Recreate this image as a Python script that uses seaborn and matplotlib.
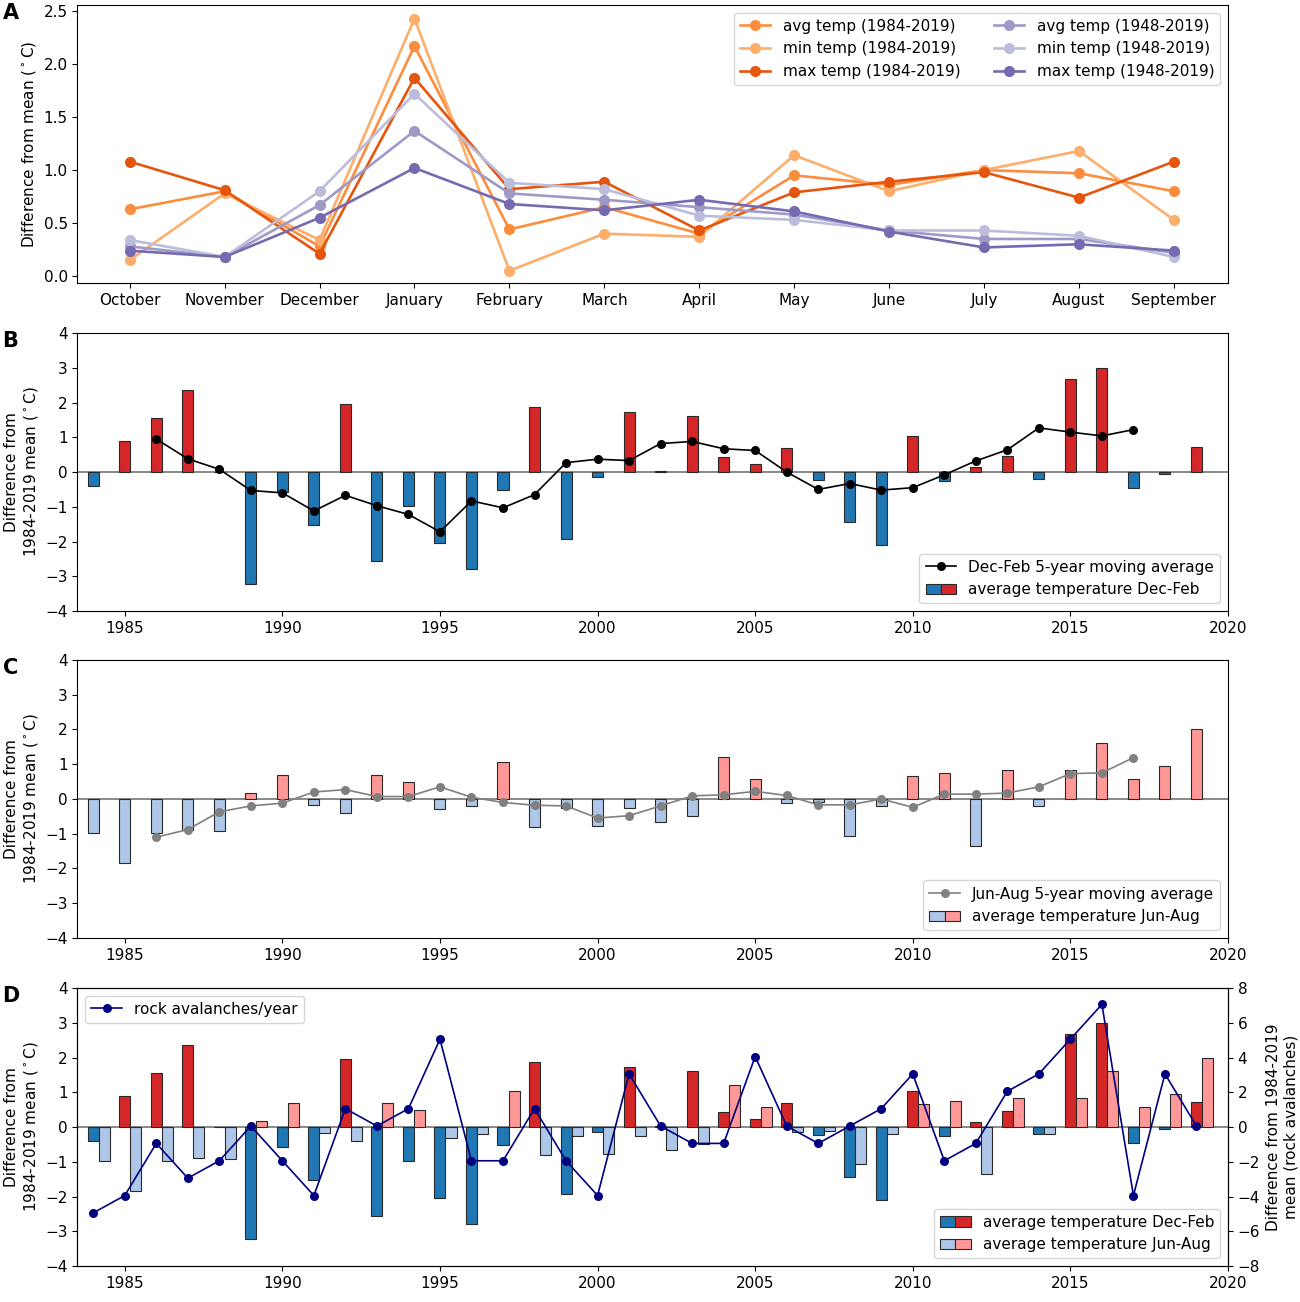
import numpy as np
import pandas as pd
import matplotlib
matplotlib.use("Agg")
import matplotlib.pyplot as plt
import seaborn as sns
from matplotlib.patches import Patch
from matplotlib.lines import Line2D
from matplotlib.legend_handler import HandlerTuple

plt.rcParams['font.family'] = ['DejaVu Sans']
plt.rcParams['font.size'] = 11

# ---- panel A: monthly differences from mean
months = ['October', 'November', 'December', 'January', 'February', 'March',
          'April', 'May', 'June', 'July', 'August', 'September']
avg_84 = [0.63, 0.80, 0.28, 2.17, 0.44, 0.65, 0.40, 0.95, 0.86, 1.00, 0.97, 0.80]
min_84 = [0.15, 0.78, 0.34, 2.43, 0.05, 0.40, 0.37, 1.14, 0.80, 1.00, 1.18, 0.53]
max_84 = [1.08, 0.81, 0.21, 1.87, 0.82, 0.89, 0.43, 0.79, 0.89, 0.98, 0.74, 1.08]
avg_48 = [0.28, 0.18, 0.67, 1.37, 0.78, 0.72, 0.65, 0.58, 0.43, 0.35, 0.35, 0.22]
min_48 = [0.34, 0.18, 0.80, 1.72, 0.88, 0.82, 0.57, 0.53, 0.43, 0.43, 0.38, 0.18]
max_48 = [0.24, 0.18, 0.55, 1.02, 0.68, 0.62, 0.72, 0.61, 0.42, 0.27, 0.30, 0.24]
series_names = ['avg temp (1984-2019)', 'min temp (1984-2019)', 'max temp (1984-2019)',
                'avg temp (1948-2019)', 'min temp (1948-2019)', 'max temp (1948-2019)']
series_colors = ['#fd8d3c', '#fdae6b', '#e6550d', '#9e9ac8', '#bcbddc', '#756bb1']

# ---- panels B-D: yearly anomalies
years = list(range(1984, 2020))
djf = [-0.40, 0.90, 1.55, 2.37, 0.00, -3.22, -0.58, -1.52, 1.97, -2.57,
       -0.97, -2.05, -2.80, -0.53, 1.88, -1.93, -0.13, 1.73, 0.03, 1.62,
       0.43, 0.22, 0.70, -0.22, -1.43, -2.10, 1.05, -0.25, 0.15, 0.45,
       -0.20, 2.67, 3.00, -0.47, -0.05, 0.72]
jja = [-0.97, -1.85, -0.97, -0.88, -0.92, 0.17, 0.70, -0.17, -0.40, 0.70,
       0.50, -0.30, -0.20, 1.05, -0.80, -0.27, -0.77, -0.27, -0.66, -0.48,
       1.20, 0.57, -0.13, -0.10, -1.07, -0.21, 0.67, 0.75, -1.35, 0.84,
       -0.20, 0.84, 1.61, 0.57, 0.95, 2.00]
ma_years = list(range(1986, 2018))
djf_ma = [0.95, 0.38, 0.08, -0.53, -0.60, -1.12, -0.67, -0.97, -1.22, -1.72,
          -0.83, -1.03, -0.65, 0.27, 0.37, 0.33, 0.82, 0.88, 0.67, 0.62,
          0.00, -0.50, -0.33, -0.52, -0.45, -0.08, 0.32, 0.64, 1.27, 1.15,
          1.04, 1.22]
jja_ma = [-1.10, -0.88, -0.37, -0.20, -0.12, 0.20, 0.27, 0.07, 0.07, 0.35,
          0.05, -0.10, -0.18, -0.20, -0.55, -0.48, -0.20, 0.09, 0.12, 0.22,
          0.10, -0.17, -0.17, 0.00, -0.24, 0.14, 0.14, 0.17, 0.35, 0.73,
          0.75, 1.19]
avalanches = [-4.94, -3.94, -0.94, -2.94, -1.94, 0.06, -1.94, -3.94, 1.06, 0.06,
              1.06, 5.06, -1.94, -1.94, 1.06, -1.94, -3.94, 3.06, 0.06, -0.94,
              -0.94, 4.06, 0.06, -0.94, 0.06, 1.06, 3.06, -1.94, -0.94, 2.06,
              3.06, 5.06, 7.06, -3.94, 3.06, 0.06]

DJF_COLORS = {'neg': '#1f77b4', 'pos': '#d62728'}
JJA_COLORS = {'neg': '#aec7e8', 'pos': '#ff9896'}
EDGE = '#2a2a2a'

df_a = pd.DataFrame({'month': np.tile(np.arange(len(months)), 6),
                     'value': avg_84 + min_84 + max_84 + avg_48 + min_48 + max_48,
                     'series': np.repeat(series_names, len(months))})
df_djf = pd.DataFrame({'year': years, 'value': djf})
df_djf['sign'] = np.where(df_djf['value'] < 0, 'neg', 'pos')
df_jja = pd.DataFrame({'year': years, 'value': jja})
df_jja['sign'] = np.where(df_jja['value'] < 0, 'neg', 'pos')


def bars(ax, df, colors, shift=0.0):
    d = df.copy()
    d['x'] = d['year'] + shift
    sns.barplot(data=d, x='x', y='value', hue='sign', palette=colors,
                native_scale=True, width=0.35, saturation=1, errorbar=None,
                edgecolor=EDGE, linewidth=0.8, legend=False, ax=ax, zorder=2)


def year_axis(ax):
    ax.axhline(0, color='#808080', lw=1.3, zorder=1.5)
    ax.set_xlim(1983.5, 2020)
    ax.set_ylim(-4, 4)
    ax.set_xticks(range(1985, 2021, 5))
    ax.set_xticklabels([str(y) for y in range(1985, 2021, 5)])
    ax.set_yticks(range(-4, 5))
    ax.set_xlabel('')
    ax.set_ylabel('Difference from\n1984-2019 mean ($^\\circ$C)')


def split_patch(colors):
    return (Patch(facecolor=colors['neg'], edgecolor=EDGE, lw=0.8),
            Patch(facecolor=colors['pos'], edgecolor=EDGE, lw=0.8))


fig = plt.figure(figsize=(13, 13.02), dpi=100)
L, W, H = 0.0596, 0.885, 0.2135
axA = fig.add_axes([L, 0.7826, W, H])
axB = fig.add_axes([L, 0.5307, W, H])
axC = fig.add_axes([L, 0.2796, W, H])
axD = fig.add_axes([L, 0.0276, W, H])
tuple_map = {tuple: HandlerTuple(ndivide=None, pad=0)}

# A
sns.lineplot(data=df_a, x='month', y='value', hue='series', hue_order=series_names,
             palette=series_colors, marker='o', markersize=8, markeredgewidth=0,
             linewidth=1.9, sort=False, ax=axA)
axA.set_xticks(range(len(months)))
axA.set_xticklabels(months)
axA.set_xlim(-0.55, 11.57)
axA.set_ylim(-0.066, 2.557)
axA.set_yticks([0.0, 0.5, 1.0, 1.5, 2.0, 2.5])
axA.set_xlabel('')
axA.set_ylabel('Difference from mean ($^\\circ$C)')
hA = [Line2D([0], [0], color=c, marker='o', markersize=8, markeredgewidth=0, lw=1.9)
      for c in series_colors]
axA.legend(hA, series_names, ncol=2, loc='upper right', columnspacing=2.2,
           handlelength=2.0)

# B
bars(axB, df_djf, DJF_COLORS)
sns.lineplot(x=ma_years, y=djf_ma, color='black', marker='o', markersize=6.5,
             markeredgewidth=0, linewidth=1.2, ax=axB, zorder=3)
year_axis(axB)
hB = [Line2D([0], [0], color='black', marker='o', markersize=6.5, markeredgewidth=0, lw=1.2),
      split_patch(DJF_COLORS)]
axB.legend(hB, ['Dec-Feb 5-year moving average', 'average temperature Dec-Feb'],
           loc='lower right', handler_map=tuple_map)

# C
bars(axC, df_jja, JJA_COLORS)
sns.lineplot(x=ma_years, y=jja_ma, color='#808080', marker='o', markersize=6.5,
             markeredgewidth=0, linewidth=1.2, ax=axC, zorder=3)
year_axis(axC)
hC = [Line2D([0], [0], color='#808080', marker='o', markersize=6.5, markeredgewidth=0, lw=1.2),
      split_patch(JJA_COLORS)]
axC.legend(hC, ['Jun-Aug 5-year moving average', 'average temperature Jun-Aug'],
           loc='lower right', handler_map=tuple_map)

# D
bars(axD, df_djf, DJF_COLORS)
bars(axD, df_jja, JJA_COLORS, shift=0.35)
year_axis(axD)
axD.legend([split_patch(DJF_COLORS), split_patch(JJA_COLORS)],
           ['average temperature Dec-Feb', 'average temperature Jun-Aug'],
           loc='lower right', handler_map=tuple_map)
axD2 = axD.twinx()
sns.lineplot(x=years, y=avalanches, color='navy', marker='o', markersize=6.5,
             markeredgewidth=0, linewidth=1.2, ax=axD2, label='rock avalanches/year')
axD2.set_ylim(-8, 8)
axD2.set_yticks(range(-8, 9, 2))
axD2.set_ylabel('Difference from 1984-2019\nmean (rock avalanches)')
axD2.legend(loc='upper left')
axD.set_xlim(1983.5, 2020)

for lab, ax in zip('ABCD', [axA, axB, axC, axD]):
    top = ax.get_position().y1
    fig.text(0.002, top + 0.0015, lab, fontsize=15, fontweight='bold', va='top', ha='left')

fig.savefig('out.png', dpi=100)
